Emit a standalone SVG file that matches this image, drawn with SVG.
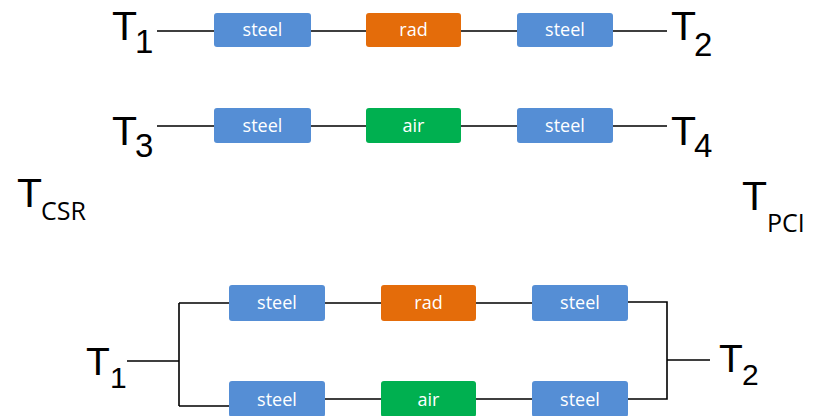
<svg xmlns="http://www.w3.org/2000/svg" width="814" height="416" viewBox="0 0 814 416">
<style>
.box{stroke:none}
.steel{fill:#558ED5}
.rad{fill:#E46C0A}
.air{fill:#00B050}
.bl{font-family:"Open Sans","Noto Sans",sans-serif;font-size:18px;fill:#fff;text-anchor:middle}
.T{font-family:"Liberation Sans","Open Sans",sans-serif;font-size:41px;fill:#000}
.s{font-family:"Liberation Sans","Open Sans",sans-serif;font-size:33px;fill:#000}
.s2{font-family:"Open Sans","Noto Sans",sans-serif;font-size:25px;fill:#000}
.c{stroke:#000;stroke-width:1.6;fill:none}
</style>
<rect width="814" height="416" fill="#fff"/>
<g id="connectors">
<path class="c" d="M157 31H214M311 31H366M461 31H517M613 31H667"/>
<path class="c" d="M157 126H214M311 126H366M461 126H517M613 126H667"/>
<path class="c" d="M127 361H179M179 303V406M179 303H229M179 406H229M325 303H381M476 303H532M325 399H381M476 399H532"/>
<path class="c" d="M628 302H667V399H628M667 360H710"/>
</g>
<g id="r1-steel1"><rect class="box steel" x="214" y="13" width="97" height="34" rx="3"/><text class="bl" x="262.5" y="36">steel</text></g>
<g id="r1-rad"><rect class="box rad" x="366" y="13" width="95" height="34" rx="3"/><text class="bl" x="413.5" y="36">rad</text></g>
<g id="r1-steel2"><rect class="box steel" x="517" y="13" width="96" height="34" rx="3"/><text class="bl" x="565" y="36">steel</text></g>
<g id="r2-steel1"><rect class="box steel" x="214" y="108" width="97" height="35" rx="3"/><text class="bl" x="262.5" y="132">steel</text></g>
<g id="r2-air"><rect class="box air" x="366" y="108" width="95" height="35" rx="3"/><text class="bl" x="413.5" y="132">air</text></g>
<g id="r2-steel2"><rect class="box steel" x="517" y="108" width="96" height="35" rx="3"/><text class="bl" x="565" y="132">steel</text></g>
<g id="p-steel1"><rect class="box steel" x="229" y="285" width="96" height="36" rx="3"/><text class="bl" x="277" y="309">steel</text></g>
<g id="p-rad"><rect class="box rad" x="381" y="285" width="95" height="36" rx="3"/><text class="bl" x="428.5" y="309">rad</text></g>
<g id="p-steel2"><rect class="box steel" x="532" y="285" width="96" height="36" rx="3"/><text class="bl" x="580" y="309">steel</text></g>
<g id="p-steel3"><rect class="box steel" x="229" y="381" width="96" height="36" rx="3"/><text class="bl" x="277" y="406">steel</text></g>
<g id="p-air"><rect class="box air" x="381" y="381" width="95" height="36" rx="3"/><text class="bl" x="428.5" y="406">air</text></g>
<g id="p-steel4"><rect class="box steel" x="532" y="381" width="96" height="36" rx="3"/><text class="bl" x="580" y="406">steel</text></g>
<g id="T1"><text class="T" x="112" y="40">T</text><text class="s" x="135" y="53">1</text></g>
<g id="T2"><text class="T" x="671" y="40">T</text><text class="s" x="694" y="56">2</text></g>
<g id="T3"><text class="T" x="112" y="145">T</text><text class="s" x="135" y="157">3</text></g>
<g id="T4"><text class="T" x="671" y="145">T</text><text class="s" x="694" y="157">4</text></g>
<g id="TCSR"><text class="T" x="17" y="207">T</text><text class="s2" x="41" y="220">CSR</text></g>
<g id="TPCI"><text class="T" x="742" y="210">T</text><text class="s2" x="767" y="232">PCI</text></g>
<g id="T1b"><text class="T" x="86" y="375" style="font-size:39px">T</text><text class="s" x="110" y="388" style="font-size:30px">1</text></g>
<g id="T2b"><text class="T" x="719" y="372" style="font-size:39px">T</text><text class="s" x="742" y="385" style="font-size:30px">2</text></g>
</svg>
